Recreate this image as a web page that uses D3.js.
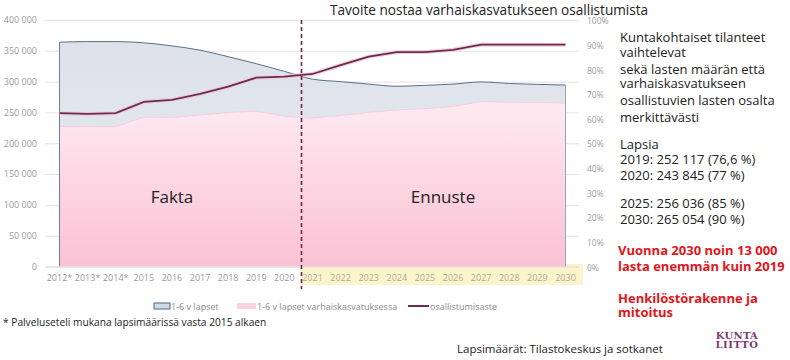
<!DOCTYPE html>
<html><head><meta charset="utf-8">
<script src="https://cdn.jsdelivr.net/npm/d3@7"></script>
<style>
html,body{margin:0;padding:0;background:#fff;}
svg{display:block;font-family:"Open Sans",sans-serif;}
</style></head>
<body><svg id="c" width="790" height="360"></svg>
<script>
const years = ["2012*","2013*","2014*","2015","2016","2017","2018","2019","2020","2021","2022","2023","2024","2025","2026","2027","2028","2029","2030"];
const children = [364000,365000,365000,363000,358000,351000,340500,329134,316682,304000,300000,296000,292500,294000,296000,299500,297000,295500,294504];
const inEcec = [227000,227000,227000,242400,242000,246000,250000,252117,243845,240800,245000,250000,254000,256036,259600,267700,266700,266000,265054];
const rate = [62.2,61.9,62.2,66.8,67.6,70.0,73.0,76.6,77.0,78.1,81.7,85.1,87.0,87.0,87.9,90,90,90,90];
const leftTicks = [0,50000,100000,150000,200000,250000,300000,350000,400000];
const rightTicks = [0,10,20,30,40,50,60,70,80,90,100];
const seriesNames = ["1-6 v lapset","1-6 v lapset varhaiskasvatuksessa","osallistumisaste"];
const title = "Tavoite nostaa varhaiskasvatukseen osallistumista";
const sideText = ["Kuntakohtaiset tilanteet","vaihtelevat","sekä lasten määrän että","varhaiskasvatukseen","osallistuvien lasten osalta","merkittävästi","Lapsia","2019: 252 117 (76,6 %)","2020: 243 845 (77 %)","2025: 256 036 (85 %)","2030: 265 054 (90 %)"];
const redText = ["Vuonna 2030 noin 13 000","lasta enemmän kuin 2019","Henkilöstörakenne ja","mitoitus"];

const svg = d3.select("#c");
const x = d3.scalePoint().domain(years).range([59.5, 565.5]);
const y = d3.scaleLinear().domain([0,400000]).range([266.5, 20]);
const yR = d3.scaleLinear().domain([0,100]).range([266.5, 20]);
const fmt = v => d3.format(",")(v).replace(/,/g," ");

const defs = svg.append("defs");
const gb = defs.append("linearGradient").attr("id","gb").attr("x1",0).attr("x2",0).attr("y1",0).attr("y2",1);
gb.append("stop").attr("offset","0%").attr("stop-color","#dde2ea");
gb.append("stop").attr("offset","100%").attr("stop-color","#e8ebf0");
const gp = defs.append("linearGradient").attr("id","gp").attr("gradientUnits","userSpaceOnUse")
  .attr("x1",0).attr("x2",0).attr("y1",y(270000)).attr("y2",y(0));
gp.append("stop").attr("offset","0%").attr("stop-color","#feebf1");
gp.append("stop").attr("offset","100%").attr("stop-color","#fbc1d5");

// gridlines + left axis
const gl = svg.append("g").attr("transform","translate(37,0)")
  .call(d3.axisLeft(y).tickValues(leftTicks).tickFormat(fmt).tickSize(0).tickPadding(0));
gl.select(".domain").remove();
gl.selectAll("text").attr("fill","#9a9a9a").style("font-size","9px").style("font-family","'Open Sans',sans-serif");
svg.append("g").selectAll("line").data(leftTicks).join("line")
  .attr("x1",45).attr("x2",579).attr("y1",d=>y(d)+0.5).attr("y2",d=>y(d)+0.5)
  .attr("stroke","#e3e3e3").attr("stroke-width",1);

// right axis
const gr = svg.append("g").attr("transform","translate(587,1)")
  .call(d3.axisRight(yR).tickValues(rightTicks).tickFormat(d=>d+"%").tickSize(0).tickPadding(0));
gr.select(".domain").remove();
gr.selectAll("text").attr("fill","#a0a0a0").style("font-size","8.5px").style("font-family","'Open Sans',sans-serif");

// yellow forecast label band
svg.append("rect").attr("x",301).attr("y",264).attr("width",282).attr("height",21).attr("fill","#fcf4cb");

// blue area
const areaB = d3.area().x((d,i)=>x(years[i])).y0(y(0)).y1(d=>y(d)).curve(d3.curveMonotoneX);
svg.append("path").datum(children).attr("d",areaB).attr("fill","url(#gb)");
// pink area
const areaP = d3.area().x((d,i)=>x(years[i])).y0(y(0)).y1(d=>y(d));
svg.append("path").datum(inEcec).attr("d",areaP).attr("fill","url(#gp)");
svg.append("path").datum(inEcec).attr("d",d3.line().x((d,i)=>x(years[i])).y(d=>y(d)))
  .attr("fill","none").attr("stroke","#f7cddb").attr("stroke-width",1);
// blue outline
const topLine = d3.line().x((d,i)=>x(years[i])).y(d=>y(d)).curve(d3.curveMonotoneX);
svg.append("path").datum(children).attr("d",topLine).attr("fill","none").attr("stroke","#56718a").attr("stroke-width",1);
svg.append("line").attr("x1",x(years[0])).attr("x2",x(years[0])).attr("y1",y(0)).attr("y2",y(children[0]))
  .attr("stroke","#6b7f92").attr("stroke-width",1);
svg.append("line").attr("x1",x(years[18])).attr("x2",x(years[18])).attr("y1",y(0)).attr("y2",y(children[18]))
  .attr("stroke","#9aa6b3").attr("stroke-width",1);
// baseline
svg.append("line").attr("x1",45).attr("x2",579).attr("y1",y(0)+0.5).attr("y2",y(0)+0.5).attr("stroke","#dcdcdc");

// rate line
const rl = d3.line().x((d,i)=>x(years[i])).y(d=>yR(d));
svg.append("path").datum(rate).attr("d",rl).attr("fill","none").attr("stroke","#ecc8d6").attr("stroke-width",4).attr("opacity",0.8);
svg.append("path").datum(rate).attr("d",rl).attr("fill","none").attr("stroke","#6e2a50").attr("stroke-width",1.8);

// x labels
svg.append("g").selectAll("text").data(years).join("text")
  .attr("x",d=>x(d)).attr("y",277).attr("text-anchor","middle").attr("dominant-baseline","central")
  .attr("fill",(d,i)=>i>=9?"#b0ab98":"#9a9a9a").style("font-size","9px").text(d=>d);

// dashed divider
svg.append("line").attr("x1",301.5).attr("x2",301.5).attr("y1",20).attr("y2",289)
  .attr("stroke","#7a2148").attr("stroke-width",1.6).attr("stroke-dasharray","4,3");

// Fakta / Ennuste
svg.append("text").attr("x",172).attr("y",196).attr("text-anchor","middle").attr("dominant-baseline","central")
  .style("font-size","17px").attr("fill","#222").text("Fakta");
svg.append("text").attr("x",443).attr("y",196).attr("text-anchor","middle").attr("dominant-baseline","central")
  .style("font-size","17px").attr("fill","#222").text("Ennuste");

// title
svg.append("text").attr("x",330).attr("y",9.5).attr("dominant-baseline","central")
  .style("font-size","13.6px").attr("fill","#222").text(title);

// legend
const lg = svg.append("g").style("font-size","9px");
lg.append("rect").attr("x",154).attr("y",303).attr("width",16).attr("height",6).attr("fill","#cfdae6").attr("stroke","#4d6a84").attr("stroke-width",1);
lg.append("text").attr("x",171).attr("y",306).attr("dominant-baseline","central").attr("fill","#8a8a8a").text(seriesNames[0]);
lg.append("rect").attr("x",237).attr("y",303).attr("width",19).attr("height",6).attr("fill","#fbd2e0");
lg.append("text").attr("x",257).attr("y",306).attr("dominant-baseline","central").attr("fill","#8a8a8a").text(seriesNames[1]);
lg.append("line").attr("x1",408).attr("x2",429).attr("y1",306).attr("y2",306).attr("stroke","#6e2a50").attr("stroke-width",2);
lg.append("text").attr("x",430).attr("y",306).attr("dominant-baseline","central").attr("fill","#8a8a8a").text(seriesNames[2]);

// side text
const sideY = [37.3,51.7,69,83,100,116.7,144,159.3,175,203.3,219.3];
svg.append("g").selectAll("text").data(sideText).join("text")
  .attr("x",620).attr("y",(d,i)=>sideY[i]).attr("dominant-baseline","central")
  .style("font-size","13px").attr("fill","#222").text(d=>d);
const redY = [250,265.7,297.7,312.3];
svg.append("g").selectAll("text").data(redText).join("text")
  .attr("x",618).attr("y",(d,i)=>redY[i]).attr("dominant-baseline","central")
  .style("font-size","13px").style("font-weight","bold").attr("fill","#e3141b").text(d=>d);

// footnotes
svg.append("text").attr("x",3).attr("y",322).attr("dominant-baseline","central")
  .style("font-size","10.2px").attr("fill","#222").text("* Palveluseteli mukana lapsimäärissä vasta 2015 alkaen");
svg.append("text").attr("x",457).attr("y",348).attr("dominant-baseline","central")
  .style("font-size","11.5px").attr("fill","#222").text("Lapsimäärät: Tilastokeskus ja sotkanet");

// logo
const logo = svg.append("g").style("font-family","'DejaVu Serif',serif").style("font-size","10px").style("font-weight","bold").attr("fill","#7d3a70");
logo.append("text").attr("x",737).attr("y",335).attr("text-anchor","middle").attr("dominant-baseline","central").attr("letter-spacing","0.3").text("KUNTA");
logo.append("text").attr("x",737).attr("y",344).attr("text-anchor","middle").attr("dominant-baseline","central").attr("letter-spacing","0.6").text("LIITTO");
</script></body></html>
